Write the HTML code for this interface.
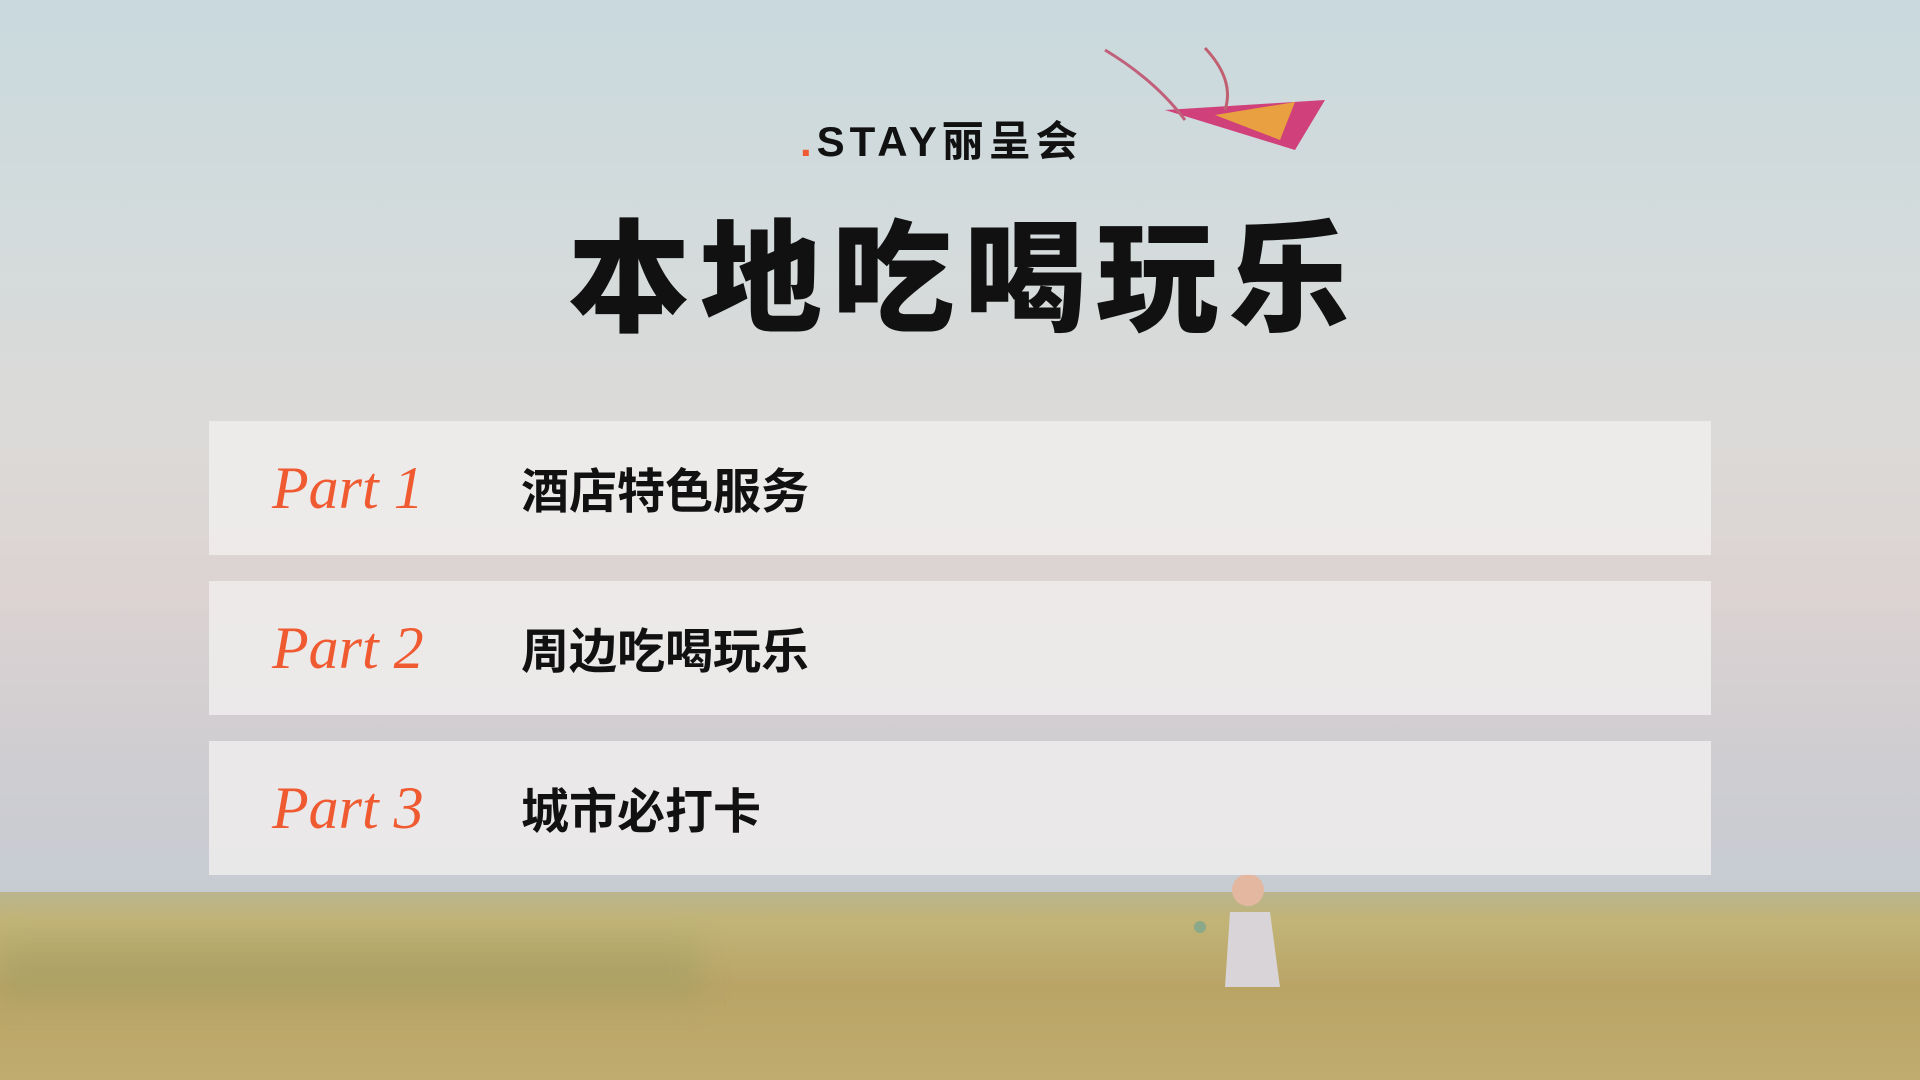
<!DOCTYPE html>
<html><head><meta charset="utf-8">
<style>
html,body{margin:0;padding:0}
body{width:1920px;height:1080px;position:relative;overflow:hidden;
background:linear-gradient(180deg,#c9d9dd 0%,#d3dbdc 20%,#dcdad8 40%,#dcd3d2 55%,#cfcdd1 70%,#c7ccd3 82%,#c8cdd2 84%);
font-family:"Liberation Sans","Noto Sans CJK SC",sans-serif}
.grass{position:absolute;left:0;top:892px;width:1920px;height:188px;
background:linear-gradient(180deg,#b9b58e 0%,#c2b477 15%,#b9a466 50%,#c0ac6e 100%)}
.grass2{position:absolute;left:0;top:940px;width:700px;height:60px;background:rgba(140,150,90,.25);filter:blur(14px)}
.logo{position:absolute;left:800px;top:117px;font-size:42px;font-weight:bold;letter-spacing:5px;color:#111;white-space:nowrap;line-height:50px}
.logo .dot{color:#f05a30}
.title{position:absolute;left:568px;top:200px;font-size:122px;font-weight:900;color:#111;white-space:nowrap;letter-spacing:10px;font-family:"Noto Sans CJK SC",sans-serif;line-height:140px}
.panel{position:absolute;left:209px;width:1502px;height:134px;background:rgba(240,238,238,.82)}
.part{position:absolute;left:272px;font-family:"Liberation Serif",serif;font-style:italic;font-size:60px;color:#f05a30}
.lab{position:absolute;left:521px;font-size:48px;font-weight:bold;color:#111;font-family:"Noto Sans CJK SC",sans-serif}
</style></head><body>
<div class="grass"></div>
<div class="grass2"></div>
<svg style="position:absolute;left:1095px;top:40px" width="240" height="120">
<path d="M70 70 L230 60 L200 110 Z" fill="#d0407a"/>
<path d="M120 75 L200 62 L185 100 Z" fill="#e8a040"/>
<path d="M10 10 Q60 40 90 80" stroke="#c0607a" stroke-width="3" fill="none"/>
<path d="M110 8 Q140 40 130 70" stroke="#c06070" stroke-width="3" fill="none"/>
</svg>
<svg style="position:absolute;left:1180px;top:862px" width="110" height="130">
<circle cx="68" cy="28" r="16" fill="#e4b8a0"/>
<path d="M50 50 L90 50 L100 125 L45 125 Z" fill="#d8d4d8"/>
<circle cx="20" cy="65" r="6" fill="#8aa88a"/>
</svg>
<div class="logo"><span class="dot">.</span>STAY丽呈会</div>
<div class="title">本地吃喝玩乐</div>

<div class="panel" style="top:421px"></div>
<div class="part" style="top:454px">Part 1</div>
<div class="lab" style="top:452px">酒店特色服务</div>

<div class="panel" style="top:581px"></div>
<div class="part" style="top:614px">Part 2</div>
<div class="lab" style="top:612px">周边吃喝玩乐</div>

<div class="panel" style="top:741px"></div>
<div class="part" style="top:774px">Part 3</div>
<div class="lab" style="top:772px">城市必打卡</div>
</body></html>
